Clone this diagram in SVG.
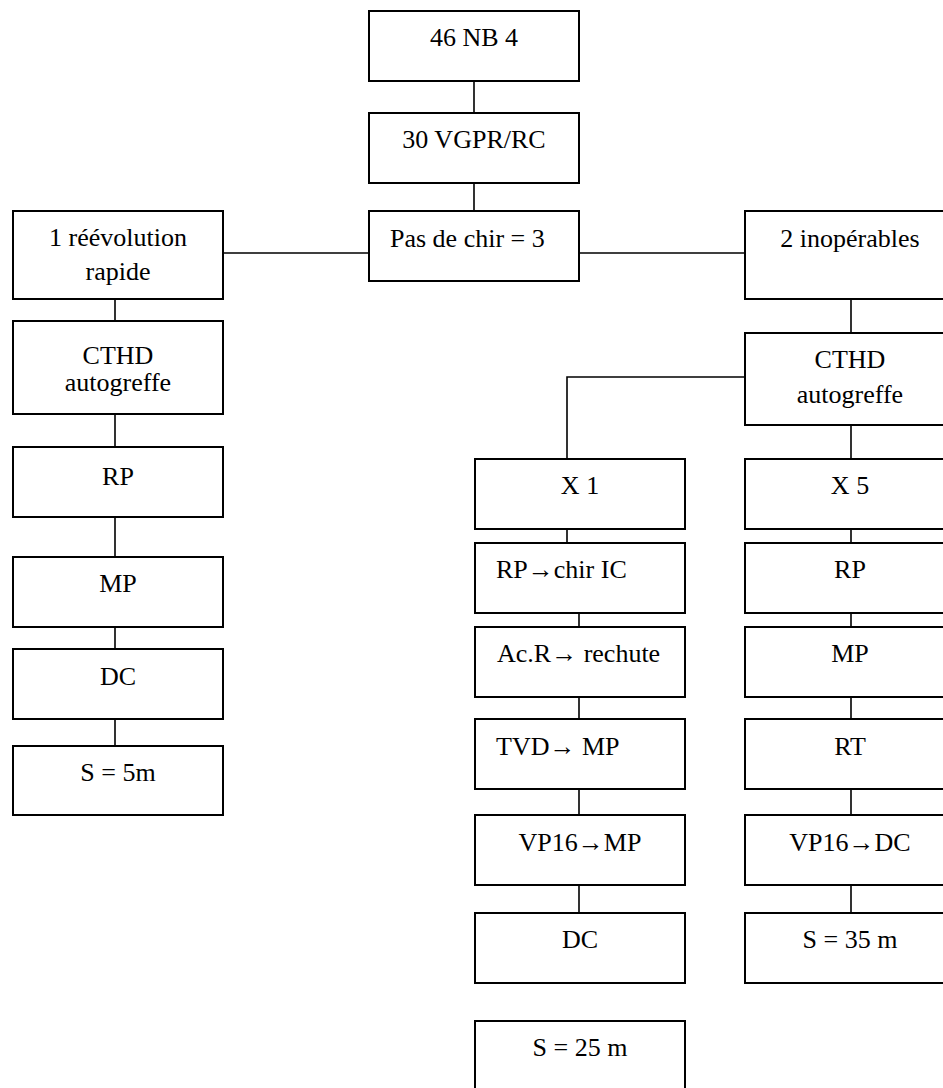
<svg xmlns="http://www.w3.org/2000/svg" width="943" height="1088" viewBox="0 0 943 1088">
<style>
.b{fill:#fff;stroke:#000;stroke-width:2}
.t{font-family:'Liberation Serif','DejaVu Serif',serif;font-size:26px;fill:#000;text-anchor:middle}
.s{text-anchor:start}
.c{fill:none;stroke:#000;stroke-width:1.6}
</style>
<rect width="943" height="1088" fill="#fff"/>
<g id="connectors">
<path class="c" d="M474 81V113M474 183V211M223 253H369M579 253H745"/>
<path class="c" d="M115 299V321M115 414V447M115 517V557M115 627V649M115 719V746"/>
<path class="c" d="M851 299V333M851 425V459M745 377H567V459"/>
<path class="c" d="M567 529V543M579 613V627M579 697V719M579 789V815M579 885V913"/>
<path class="c" d="M851 529V543M851 613V627M851 697V719M851 789V815M851 885V913"/>
</g>
<g id="n1"><rect class="b" x="369" y="11" width="210" height="70"/><text class="t" x="474" y="46">46 NB 4</text></g>
<g id="n2"><rect class="b" x="369" y="113" width="210" height="70"/><text class="t" x="474" y="148">30 VGPR/RC</text></g>
<g id="n3"><rect class="b" x="369" y="211" width="210" height="70"/><text class="t s" x="390" y="247">Pas de chir = 3</text></g>
<g id="l1"><rect class="b" x="13" y="211" width="210" height="88"/><text class="t" x="118" y="246">1 réévolution</text><text class="t" x="118" y="280">rapide</text></g>
<g id="l2"><rect class="b" x="13" y="321" width="210" height="93"/><text class="t" x="118" y="364">CTHD</text><text class="t" x="118" y="391">autogreffe</text></g>
<g id="l3"><rect class="b" x="13" y="447" width="210" height="70"/><text class="t" x="118" y="485">RP</text></g>
<g id="l4"><rect class="b" x="13" y="557" width="210" height="70"/><text class="t" x="118" y="592">MP</text></g>
<g id="l5"><rect class="b" x="13" y="649" width="210" height="70"/><text class="t" x="118" y="685">DC</text></g>
<g id="l6"><rect class="b" x="13" y="746" width="210" height="69"/><text class="t" x="118" y="781">S = 5m</text></g>
<g id="r1"><rect class="b" x="745" y="211" width="210" height="88"/><text class="t" x="850" y="247">2 inopérables</text></g>
<g id="r2"><rect class="b" x="745" y="333" width="210" height="92"/><text class="t" x="850" y="368">CTHD</text><text class="t" x="850" y="403">autogreffe</text></g>
<g id="m1"><rect class="b" x="475" y="459" width="210" height="70"/><text class="t" x="580" y="494">X 1</text></g>
<g id="m2"><rect class="b" x="475" y="543" width="210" height="70"/><text class="t s" x="496" y="578">RP→chir IC</text></g>
<g id="m3"><rect class="b" x="475" y="627" width="210" height="70"/><text class="t s" x="497" y="662">Ac.R→ rechute</text></g>
<g id="m4"><rect class="b" x="475" y="719" width="210" height="70"/><text class="t s" x="496" y="755">TVD→ MP</text></g>
<g id="m5"><rect class="b" x="475" y="815" width="210" height="70"/><text class="t" x="580" y="851">VP16→MP</text></g>
<g id="m6"><rect class="b" x="475" y="913" width="210" height="70"/><text class="t" x="580" y="948">DC</text></g>
<g id="m7"><rect class="b" x="475" y="1021" width="210" height="70"/><text class="t" x="580" y="1056">S = 25 m</text></g>
<g id="r3"><rect class="b" x="745" y="459" width="210" height="70"/><text class="t" x="850" y="494">X 5</text></g>
<g id="r4"><rect class="b" x="745" y="543" width="210" height="70"/><text class="t" x="850" y="578">RP</text></g>
<g id="r5"><rect class="b" x="745" y="627" width="210" height="70"/><text class="t" x="850" y="662">MP</text></g>
<g id="r6"><rect class="b" x="745" y="719" width="210" height="70"/><text class="t" x="850" y="755">RT</text></g>
<g id="r7"><rect class="b" x="745" y="815" width="210" height="70"/><text class="t" x="850" y="851">VP16→DC</text></g>
<g id="r8"><rect class="b" x="745" y="913" width="210" height="70"/><text class="t" x="850" y="948">S = 35 m</text></g>
</svg>
